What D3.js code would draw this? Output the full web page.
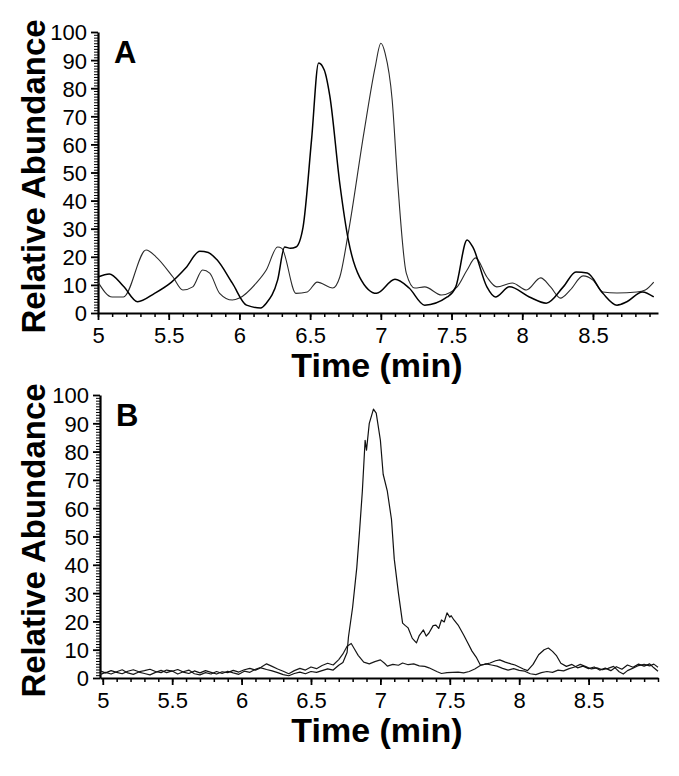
<!DOCTYPE html>
<head>
	<meta charset="utf-8">
	<script src="https://d3js.org/d3.v7.min.js"></script>
	<style>
	    body { margin: 0; background: white; }
	    svg { display: block; font-family: "Liberation Sans", Arial, Helvetica, sans-serif; }
	    .axis path, .axis line { stroke: #000; }
	    .axis text { font-size: 22px; fill: #000; }
	</style>
</head>
<body>
    <script>
        // values

        var xMajorTicks = [5, 5.5, 6, 6.5, 7, 7.5, 8, 8.5];
        var yMajorTicks = [0, 10, 20, 30, 40, 50, 60, 70, 80, 90, 100];
        var panelLabels = ["A", "B"];
        var xTitle = "Time (min)";
        var yTitle = "Relative Abundance";

        // panel A, darker trace (peak near 6.57 min)
        var aDarkTime = [5.0, 5.08, 5.18, 5.28, 5.4, 5.52, 5.62, 5.72, 5.78, 5.84, 5.95, 6.05, 6.15, 6.19, 6.27, 6.32, 6.36, 6.4, 6.45, 6.51, 6.56, 6.6, 6.64, 6.71, 6.77, 6.85, 6.97, 7.1, 7.2, 7.31, 7.47, 7.53, 7.61, 7.65, 7.75, 7.81, 7.91, 8.05, 8.17, 8.29, 8.38, 8.46, 8.57, 8.67, 8.74, 8.85, 8.93];
        var aDarkValue = [12.8, 13.9, 9.5, 4, 7, 11, 16, 22, 21.5, 19, 10.6, 2.8, 1.8, 3.5, 11.7, 23.5, 23, 23.5, 30.6, 61.6, 89, 86.5, 77, 46, 26, 12.8, 7, 12, 8.9, 2.8, 5.7, 9.3, 26, 23.5, 9.3, 5.7, 9.3, 5.7, 3.5, 9.3, 14.6, 14.2, 7, 2.8, 4, 7.5, 5.7];

        // panel A, lighter trace (peak near 7.0 min)
        var aLightTime = [5.0, 5.1, 5.18, 5.34, 5.41, 5.53, 5.6, 5.67, 5.74, 5.79, 5.86, 5.95, 6.0, 6.12, 6.19, 6.27, 6.3, 6.4, 6.48, 6.55, 6.66, 6.71, 6.77, 6.88, 6.96, 7.0, 7.03, 7.08, 7.12, 7.18, 7.24, 7.31, 7.43, 7.54, 7.61, 7.67, 7.75, 7.82, 7.93, 8.03, 8.13, 8.2, 8.27, 8.34, 8.43, 8.5, 8.57, 8.67, 8.81, 8.87, 8.93];
        var aLightValue = [11, 5.7, 5.7, 22.4, 20, 12.8, 8.2, 9.3, 15.3, 14.2, 7, 4.6, 5.3, 10.7, 15.3, 23.5, 23, 7, 7.5, 11, 8.9, 12.8, 28.5, 64, 87.5, 96, 92.5, 76, 46, 14.2, 8.9, 9.3, 6.4, 9.3, 15.3, 19.6, 12.8, 9.3, 10.7, 8.2, 12.5, 9.3, 5.3, 8.2, 13.2, 11.7, 7.5, 7.1, 7.5, 8.2, 11];

        // panel B, trace with the large peak near 6.96 min
        var bMainTime = [4.98, 5.02, 5.06, 5.1, 5.14, 5.18, 5.22, 5.26, 5.3, 5.34, 5.38, 5.42, 5.46, 5.5, 5.54, 5.58, 5.62, 5.66, 5.7, 5.74, 5.78, 5.82, 5.86, 5.9, 5.94, 5.98, 6.02, 6.06, 6.1, 6.14, 6.18, 6.22, 6.26, 6.3, 6.34, 6.38, 6.42, 6.46, 6.5, 6.54, 6.58, 6.62, 6.66, 6.7, 6.73, 6.76, 6.77, 6.8, 6.83, 6.85, 6.87, 6.89, 6.9, 6.92, 6.95, 6.97, 7.0, 7.02, 7.05, 7.08, 7.1, 7.13, 7.16, 7.18, 7.2, 7.23, 7.26, 7.28, 7.31, 7.33, 7.35, 7.38, 7.4, 7.42, 7.44, 7.46, 7.48, 7.5, 7.51, 7.53, 7.56, 7.6, 7.63, 7.66, 7.69, 7.72, 7.75, 7.79, 7.83, 7.86, 7.9, 7.94, 7.97, 8.0, 8.03, 8.06, 8.1, 8.14, 8.18, 8.21, 8.24, 8.27, 8.3, 8.34, 8.38, 8.42, 8.46, 8.5, 8.54, 8.58, 8.62, 8.66, 8.7, 8.74, 8.78, 8.82, 8.86, 8.9, 8.94, 8.97, 9.0];
        var bMainValue = [2.5, 1.8, 2.6, 2.0, 1.5, 2.4, 2.9, 2.2, 2.6, 3.1, 2.3, 1.9, 2.8, 2.4, 3.0, 2.1, 1.6, 2.5, 1.8, 2.6, 2.0, 1.4, 2.2, 1.9, 2.7, 2.1, 2.9, 3.4, 2.8, 3.6, 3.0, 2.5, 1.9, 1.2, 0.8, 1.6, 2.1, 1.5, 2.3, 2.0, 2.6, 3.2, 2.8, 4.5, 5.5, 9, 14.5, 25, 39, 52, 66, 84, 80.5, 90, 95, 93.6, 84, 72, 66, 56, 42, 30, 19.4, 18.5, 17.7, 14, 12.4, 15, 17, 14.8, 15.9, 18.5, 18.7, 17.5, 20.5, 19.8, 23, 21.5, 22, 20.5, 18.7, 15.2, 12.4, 9.5, 7.4, 4.6, 4.8, 5.3, 6.1, 6.4, 5.6, 5.0, 4.6, 3.9, 3.2, 2.6, 4.8, 8.2, 10.0, 10.6, 9.4, 7.8, 5.2, 4.1, 4.8, 3.6, 4.2, 3.3, 3.9, 2.8, 3.5, 2.6, 4.0, 3.1, 4.6, 3.8, 4.9, 4.2, 5.0, 3.6, 2.4];

        // panel B, trace with the small peak near 6.79 min
        var bSmallTime = [4.98, 5.02, 5.06, 5.1, 5.14, 5.18, 5.22, 5.26, 5.3, 5.34, 5.38, 5.42, 5.46, 5.5, 5.54, 5.58, 5.62, 5.66, 5.7, 5.74, 5.78, 5.82, 5.86, 5.9, 5.94, 5.98, 6.02, 6.06, 6.1, 6.14, 6.18, 6.22, 6.26, 6.3, 6.34, 6.38, 6.42, 6.46, 6.5, 6.54, 6.58, 6.62, 6.66, 6.7, 6.73, 6.76, 6.79, 6.81, 6.84, 6.88, 6.92, 6.96, 7.0, 7.03, 7.05, 7.09, 7.13, 7.16, 7.2, 7.24, 7.28, 7.32, 7.35, 7.38, 7.41, 7.44, 7.48, 7.52, 7.56, 7.6, 7.64, 7.68, 7.72, 7.76, 7.8, 7.84, 7.88, 7.92, 7.96, 8.0, 8.04, 8.08, 8.12, 8.16, 8.2, 8.24, 8.28, 8.32, 8.36, 8.4, 8.44, 8.48, 8.52, 8.56, 8.6, 8.64, 8.68, 8.72, 8.75, 8.78, 8.82, 8.86, 8.9, 8.94, 8.97, 9.0];
        var bSmallValue = [1.2, 2.0, 1.4, 2.2, 2.9, 1.8, 1.3, 2.1, 1.6, 1.1, 2.0, 2.7, 1.9, 2.5, 1.4, 2.2, 2.8, 1.5, 1.1, 1.9, 1.4, 2.3, 1.6, 2.4, 1.8, 1.3, 2.4, 2.0, 3.1, 3.8, 5.0, 4.1, 3.2, 2.4, 1.5, 2.6, 3.4, 2.8, 3.9, 3.3, 4.4, 5.2, 4.6, 6.5, 8.5, 11.2, 12.2, 10.5, 8.0, 5.6, 5.0, 5.8, 6.4, 5.2, 4.2, 4.8, 4.5, 5.3, 4.7, 5.0, 4.3, 4.1, 3.6, 2.9, 2.2, 1.6, 1.9, 2.0, 2.1, 1.8, 2.3, 3.2, 4.4, 5.0, 4.6, 4.2, 3.4, 2.8, 3.3, 2.7, 2.4, 1.5, 1.2, 1.9, 2.3, 2.0, 2.8, 2.5, 3.3, 3.9, 4.8, 4.0, 3.2, 3.6, 2.9, 3.4, 4.1, 2.2, 1.4, 2.6, 3.5, 4.4, 4.8, 4.3, 4.9, 3.8];

        ///////////////////////////////////////////////////////////////////////////////

        var w = 679, h = 776;

        var svg = d3.select("body").append("svg")
            .attr("width", w)
            .attr("height", h);

        svg.append("rect").attr("width", w).attr("height", h).attr("fill", "white");

        function zip(ts, vs) {
            return ts.map(function(t, i) { return {t: t, v: vs[i]}; });
        }

        var panels = [
            {label: panelLabels[0], xDomain: [5, 8.96], left: 98, right: 658, top: 32, bottom: 313,
             curve: d3.curveMonotoneX,
             series: [
                {data: zip(aLightTime, aLightValue), width: 1.1, color: "#2a2a2a"},
                {data: zip(aDarkTime, aDarkValue), width: 1.5, color: "#000"}
             ]},
            {label: panelLabels[1], xDomain: [4.98, 9.0], left: 100, right: 658, top: 395, bottom: 678,
             curve: d3.curveLinear,
             series: [
                {data: zip(bSmallTime, bSmallValue), width: 1.2, color: "#1a1a1a"},
                {data: zip(bMainTime, bMainValue), width: 1.2, color: "#111"}
             ]}
        ];

        panels.forEach(function(p) {

            var xScale = d3.scaleLinear().domain(p.xDomain).range([p.left, p.right]);
            var yScale = d3.scaleLinear().domain([0, 100]).range([p.bottom, p.top]);

            var minorX = d3.range(50, Math.floor(p.xDomain[1] * 10) + 1).map(function(d) { return d / 10; });
            var minorY = d3.range(0, 101);

            // minor ticks
            svg.append("g")
                .attr("class", "axis")
                .attr("transform", "translate(0," + p.bottom + ")")
                .call(d3.axisBottom(xScale).tickValues(minorX).tickSize(4).tickFormat(""))
                .call(function(g) { g.select(".domain").remove(); })
                .selectAll("line").attr("stroke-width", 1.5);

            svg.append("g")
                .attr("class", "axis")
                .attr("transform", "translate(" + p.left + ",0)")
                .call(d3.axisLeft(yScale).tickValues(minorY).tickSize(4).tickFormat(""))
                .call(function(g) { g.select(".domain").remove(); })
                .selectAll("line").attr("stroke-width", 1);

            // major ticks + labels
            var xAxis = svg.append("g")
                .attr("class", "axis")
                .attr("transform", "translate(0," + p.bottom + ")")
                .call(d3.axisBottom(xScale).tickValues(xMajorTicks).tickSize(7).tickSizeOuter(0)
                    .tickPadding(7).tickFormat(d3.format("")));
            xAxis.select(".domain").attr("stroke-width", 2.2);
            xAxis.selectAll("line").attr("stroke-width", 1.8);

            var yAxis = svg.append("g")
                .attr("class", "axis")
                .attr("transform", "translate(" + p.left + ",0)")
                .call(d3.axisLeft(yScale).tickValues(yMajorTicks).tickSize(7).tickSizeOuter(0)
                    .tickPadding(4));
            yAxis.select(".domain").attr("stroke-width", 2.2);
            yAxis.selectAll("line").attr("stroke-width", 1.8);
            yAxis.selectAll("text").attr("dy", "0.36em");

            // traces
            var line = d3.line()
                .curve(p.curve)
                .x(function(d) { return xScale(d.t); })
                .y(function(d) { return yScale(d.v); });

            p.series.forEach(function(s) {
                svg.append("path")
                    .datum(s.data)
                    .attr("d", line)
                    .attr("fill", "none")
                    .attr("stroke", s.color)
                    .attr("stroke-width", s.width)
                    .attr("stroke-linejoin", "round");
            });

            // panel letter
            svg.append("text")
                .attr("x", p.left + 16)
                .attr("y", p.top + 31)
                .attr("font-size", "31px")
                .attr("font-weight", "bold")
                .text(p.label);

            // axis titles
            svg.append("text")
                .attr("x", 377)
                .attr("y", p.bottom + 64)
                .attr("text-anchor", "middle")
                .attr("font-size", "34px")
                .attr("font-weight", "bold")
                .text(xTitle);

            svg.append("text")
                .attr("transform", "translate(45," + ((p.top + p.bottom) / 2 + 4) + ") rotate(-90)")
                .attr("text-anchor", "middle")
                .attr("font-size", "33px")
                .attr("font-weight", "bold")
                .text(yTitle);
        });

    </script>
</body>
